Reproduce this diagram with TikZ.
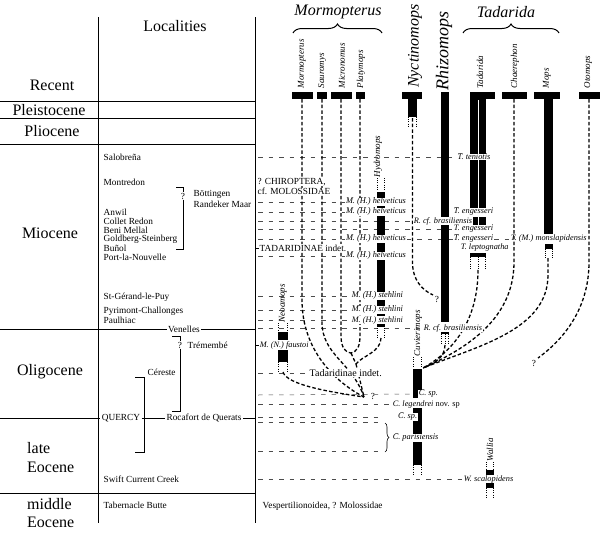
\documentclass[tikz,border=0pt]{standalone}
\usepackage{fontspec}
\setmainfont{Liberation Serif}
\usetikzlibrary{decorations.pathreplacing}
\newcommand\fsEp{\fontsize{16}{18}\selectfont}
\newcommand\fsLoc{\fontsize{9.3}{9}\selectfont}
\newcommand\fsLab{\fontsize{8.3}{9}\selectfont\itshape}
\newcommand\fsGen{\fontsize{9}{9}\selectfont\itshape}
\begin{document}
\begin{tikzpicture}[x=1pt,y=-1pt,
  frame/.style={line width=0.7pt},
  ep/.style={font=\fsEp, inner sep=0pt},
  loc/.style={font=\fsLoc, inner sep=0.5pt, anchor=west},
  lab/.style={font=\fsLab, inner sep=0.6pt, fill=white},
  gen/.style={font=\fsGen, rotate=90, anchor=west, inner sep=0.5pt},
  big/.style={font=\fontsize{16}{18}\selectfont\itshape, inner sep=0pt},
  hd/.style={draw=black!70, line width=0.5pt, dash pattern=on 4.5pt off 6pt},
  vd/.style={line width=1.3pt, dash pattern=on 3.5pt off 2.2pt},
  dt/.style={line width=0.6pt, dash pattern=on 1pt off 1.2pt},
  brc/.style={decorate, decoration={brace, amplitude=9pt}, line width=1pt},
  qm/.style={font=\fsLoc, inner sep=0.3pt},
  tdi/.style={font=\fontsize{10}{10}\selectfont, inner sep=0.5pt, anchor=west, fill=white}
]
\useasboundingbox (0,0) rectangle (600,533);
\fill[white] (0,0) rectangle (600,533);

% ---------- frame ----------
\coordinate (v1t) at (98,17); \coordinate (v1b) at (98,523);
\coordinate (v2t) at (255,17); \coordinate (v2b) at (255,523);
\draw[frame] (v1t) -- (v1b);
\draw[frame] (v2t) -- (v2b);
\foreach \y/\n in {101/a,118/b,144/c,493/d} {
  \coordinate (hl\n) at (0,\y); \coordinate (hr\n) at (255,\y);
  \draw[frame] (hl\n) -- (hr\n);
}
\node[font=\fsLoc, inner sep=1pt] (venelles) at (184,329) {Venelles};
\coordinate (vnl) at (0,329); \coordinate (vnr) at (255,329);
\draw[frame] (vnl) -- (venelles.west); \draw[frame] (venelles.east) -- (vnr);
\node[font=\fsLoc, inner sep=1.5pt] (quercy) at (121,418) {QUERCY};
\node[font=\fsLoc, inner sep=1.5pt] (rocafort) at (204,418) {Rocafort de Querats};
\coordinate (ql) at (0,418); \coordinate (qr) at (255,418);
\draw[frame] (ql) -- (quercy.west);
\draw[frame] (quercy.east) -- (rocafort.west);
\draw[frame] (rocafort.east) -- (qr);

% ---------- epochs ----------
\node[ep] (locs) at (175,26) {Localities};
\node[ep] (recent) at (52,85) {Recent};
\node[ep] (pleist) at (49,110) {Pleistocene};
\node[ep] (plio) at (52,131) {Pliocene};
\node[ep] (mio) at (50,233) {Miocene};
\node[ep] (oligo) at (50,372) {Oligocene};
\node[ep, anchor=west] (late) at (27,448) {late};
\node[ep, anchor=west] (leoc) at (27,467) {Eocene};
\node[ep, anchor=west] (middle) at (27,504) {middle};
\node[ep, anchor=west] (meoc) at (27,522) {Eocene};

% ---------- localities ----------
\node[loc] (salo) at (103,157) {Salobreña};
\node[loc] (montr) at (103,182) {Montredon};
\node[loc] (anwil) at (103,212) {Anwil};
\node[loc] (collet) at (103,221) {Collet Redon};
\node[loc] (beni) at (103,230) {Beni Mellal};
\node[loc] (gold) at (103,239) {Goldberg-Steinberg};
\node[loc] (bunol) at (103,248) {Buñol};
\node[loc] (port) at (103,257) {Port-la-Nouvelle};
\node[loc] (bott) at (193,194) {Böttingen};
\node[loc] (rand) at (193,204) {Randeker Maar};
\node[qm] (bq) at (183,196) {?};
\coordinate (bk1) at (176,187); \coordinate (bk2) at (183,187);
\coordinate (bk3) at (183,249); \coordinate (bk4) at (176,249);
\draw[frame] (bk1) -- (bk2) -- (bq.north);
\draw[frame] (bq.south) -- (bk3) -- (bk4);
\node[loc] (stg) at (103,297) {St-Gérand-le-Puy};
\node[loc] (pyr) at (103,311) {Pyrimont-Challonges};
\node[loc] (paul) at (103,320) {Paulhiac};
\node[qm] (tq) at (180,345) {?};
\node[loc] (tremembe) at (187,345) {Trémembé};
\coordinate (tr1) at (172,336); \coordinate (tr2) at (180,336);
\coordinate (tr3) at (180,411); \coordinate (tr4) at (172,411);
\draw[frame] (tr1) -- (tr2) -- (tq.north);
\draw[frame] (tq.south) -- (tr3) -- (tr4);
\node[loc] (cereste) at (147,372) {Céreste};
\coordinate (cr1) at (135,377); \coordinate (cr2) at (144,377);
\coordinate (cr3) at (144,452); \coordinate (cr4) at (135,452);
\draw[frame] (cr1) -- (cr2) -- (cr3) -- (cr4);
\node[loc] (swift) at (103,479) {Swift Current Creek};
\node[loc] (tab) at (103,505) {Tabernacle Butte};

% ---------- headers ----------
\node[big] (mormT) at (338,12) {Mormopterus};
\node[big] (tadT) at (506,12) {Tadarida};
\coordinate (mb1) at (293,33); \coordinate (mb2) at (382,33);
\draw[brc] (mb1) -- (mb2);
\coordinate (tb1) at (463,33); \coordinate (tb2) at (559,33);
\draw[brc] (tb1) -- (tb2);
\node[big, rotate=90, anchor=west] (nyctT) at (415,88) {Nyctinomops};
\node[font=\fontsize{18}{20}\selectfont\itshape, rotate=90, anchor=west, inner sep=0pt] (rhizT) at (444,91) {Rhizomops};
\foreach \x/\t/\n in {302/Mormopterus/g1, 322/Sauromys/g2, 342/Micronomus/g3, 361/Platymops/g4, 480/Tadarida/g5, 515/Chaerephon/g6, 547/Mops/g7, 588/Otomops/g8}
  \node[gen] (\n) at (\x,89) {\t};
\node[gen] (hydT) at (378,178) {Hydromops};
\node[gen] (neoT) at (283,323) {Neoamops};
\node[gen] (cuvT) at (418,357) {Cuvierimops};
\node[gen] (walT) at (490,462) {Wallia};

% ---------- horizontal dashed lines ----------
\node[lab] (tten) at (474,157) {T. teniotis};
\node[lab] (hel1) at (376,202) {M. (H.) helveticus};
\node[lab] (hel2) at (376,212) {M. (H.) helveticus};
\node[lab] (hel3) at (376,239) {M. (H.) helveticus};
\node[lab] (hel4) at (376,256) {M. (H.) helveticus};
\node[lab, anchor=west] (st1) at (351,296) {M. (H.) stehlini};
\node[lab, anchor=west] (st2) at (351,310) {M. (H.) stehlini};
\node[lab, anchor=west] (st3) at (351,320) {M. (H.) stehlini};
\node[lab, anchor=west] (rbr1) at (413,221) {R. cf. brasiliensis};
\node[lab, anchor=west] (rbr2) at (423,328) {R. cf. brasiliensis};
\node[lab, anchor=west] (ten1) at (453,212) {T. engesseri};
\node[lab, anchor=west] (ten2) at (453,229) {T. engesseri};
\node[lab, anchor=west] (ten3) at (453,239) {T. engesseri};
\node[lab, anchor=west] (tlep) at (460,247.5) {T. leptognatha};
\node[lab, anchor=west] (tmon) at (510,239) {T. (M.) monslapidensis};
\node[lab, anchor=west] (fau) at (259,345) {M. (N.) faustoi};
\node[tdi] (tadind) at (309,373) {Tadaridinae indet.};
\node[lab, anchor=west] (csp1) at (418,394) {C. sp.};
\node[lab, anchor=west] (cleg) at (392,404) {C. legendrei \textup{nov. sp}};
\node[lab, anchor=east] (csp2) at (418,417) {C. sp.};
\node[lab, anchor=west] (cpar) at (392,438) {C. parisiensis};
\node[lab, anchor=west] (wsc) at (463,479) {W. scalopidens};

\foreach \y/\t in {157/tten,202/hel1,212/hel2,221/rbr1,229/ten2,239/hel3,256/hel4,296/st1,310/st2,320/st3,328/rbr2,373/tadind,395/csp1,404/cleg,479/wsc} {
  \coordinate (d\y) at (258,\y);
  \draw[hd] (d\y) -- (\t.west);
}
\draw[hd] (hel3.east) -- (ten3.west);
\draw[hd] (ten3.east) -- (tmon.west);
\coordinate (e417a) at (258,417); \coordinate (e417b) at (382,417);
\coordinate (e422a) at (258,422); \coordinate (e422b) at (382,422);
\coordinate (e451a) at (258,451); \coordinate (e451b) at (382,451);
\draw[hd] (e417a) -- (e417b);
\draw[hd] (e422a) -- (e422b);
\draw[hd] (e451a) -- (e451b);
\coordinate (br1) at (385,423); \coordinate (br2) at (385,452);
\draw[decorate, decoration={brace, amplitude=4pt}, line width=0.6pt] (br1) -- (br2);

% ---------- tree (dashed lineages) ----------
\coordinate (mo0) at (302,99); \coordinate (mo1) at (302,300);
\coordinate (sa0) at (322,99); \coordinate (sa1) at (322,322);
\coordinate (mi0) at (341,99); \coordinate (mi1) at (341,336);
\coordinate (pl0) at (360,99); \coordinate (pl1) at (360,336);
\coordinate (A) at (351,353);
\coordinate (B) at (356,364);
\coordinate (hy0) at (381,338);
\coordinate (L0) at (364,397);
\coordinate (ne0) at (283,372);
\draw[vd] (mo0) -- (mo1) .. controls (302,350) and (335,382) .. (L0);
\draw[vd] (sa0) -- (sa1) .. controls (322,355) and (352,362) .. (L0);
\draw[vd] (mi0) -- (mi1) .. controls (341,348) and (346,353) .. (A);
\draw[vd] (pl0) -- (pl1) .. controls (360,348) and (356,352) .. (A);
\draw[vd] (A) -- (B);
\draw[vd] (hy0) .. controls (381,352) and (362,356) .. (B);
\draw[vd] (B) -- (L0);
\draw[vd] (ne0) .. controls (287,385) and (330,392) .. (L0);

\coordinate (C0) at (423,368);
\coordinate (rh0) at (445,345);
\coordinate (ta0) at (478,270);
\coordinate (ch0) at (514,99); \coordinate (ch1) at (514,262);
\coordinate (mp0) at (548,258); \coordinate (mp1) at (548,275);
\coordinate (ot0) at (589,99); \coordinate (ot1) at (589,262);
\coordinate (ny0) at (412.5,118); \coordinate (ny1) at (412.5,262);
\coordinate (nyq) at (433,295);
\coordinate (otq) at (538,358);
\draw[vd] (rh0) .. controls (445,358) and (433,364) .. (C0);
\draw[vd] (ta0) .. controls (478,322) and (452,352) .. (C0);
\draw[vd] (ch0) -- (ch1) .. controls (514,318) and (468,348) .. (C0);
\draw[vd] (mp0) -- (mp1) .. controls (548,330) and (478,346) .. (C0);
\draw[vd] (ot0) -- (ot1) .. controls (589,312) and (560,342) .. (otq);
\draw[vd] (ny0) -- (ny1) .. controls (412.5,280) and (422,290) .. (nyq);
\node[qm] (nyqm) at (437,299) {?};
\node[qm] (otqm) at (534,363) {?};
\node[qm, fill=white] (lq) at (373,396) {?};

% ---------- bars ----------
\fill (292,92) rectangle (313,99);
\fill (317,92) rectangle (327,99);
\fill (331,92) rectangle (352,99);
\fill (356,92) rectangle (365,99);
\fill (402,92) rectangle (422,99); \fill (408,99) rectangle (417,117);
\draw[dt] (408.3,117) -- (408.3,127); \draw[dt] (416.7,117) -- (416.7,127);
% Rhizomops
\fill (441,92) rectangle (449,322);
\fill (441,332) rectangle (449,334);
\draw[dt] (441.3,334) -- (441.3,345); \draw[dt] (445,334) -- (445,345); \draw[dt] (448.7,334) -- (448.7,345);
% Tadarida
\fill (470,92) rectangle (495,99);
\fill (470,99) rectangle (486,208);
\fill (470,217) rectangle (486,225);
\draw[white, line width=0.4pt] (478,100) -- (478,208);
\draw[white, line width=0.4pt] (478,217) -- (478,225);
\fill (471,242.6) rectangle (486,243.8);
\fill (470,253) rectangle (486,257);
\draw[dt] (470.3,257) -- (470.3,270); \draw[dt] (478,257) -- (478,270); \draw[dt] (485.7,257) -- (485.7,270);
% Chaerephon
\fill (502,92) rectangle (527,99);
% Mops
\fill (534,92) rectangle (560,99); \fill (544,99) rectangle (553,234);
\fill (545,244) rectangle (553,248.5);
\draw[dt] (545.3,248.5) -- (545.3,258); \draw[dt] (552.7,248.5) -- (552.7,258);
% Otomops
\fill (579,92) rectangle (600,99);
% Hydromops
\draw[dt] (377.3,178) -- (377.3,191); \draw[dt] (384.7,178) -- (384.7,191);
\fill (377,192) rectangle (385,327);
\draw[dt] (377.3,328) -- (377.3,338); \draw[dt] (384.7,328) -- (384.7,338);
% Neoamops
\draw[dt] (278.3,323) -- (278.3,331); \draw[dt] (287.7,323) -- (287.7,331);
\fill (278,332) rectangle (288,340);
\fill (278,350) rectangle (288,362);
\draw[dt] (278.3,362) -- (278.3,372); \draw[dt] (287.7,362) -- (287.7,372);
% Cuvierimops
\draw[dt] (413.3,357) -- (413.3,368); \draw[dt] (421.7,357) -- (421.7,368);
\fill (413,369) rectangle (422,398);
\fill (413,407) rectangle (422,465);
\draw[dt] (413.3,465) -- (413.3,475); \draw[dt] (421.7,465) -- (421.7,475);
% Wallia
\draw[dt] (486.3,462) -- (486.3,470); \draw[dt] (493.7,462) -- (493.7,470);
\fill (486,470) rectangle (494,477);
\fill (486,483) rectangle (494,488);
\draw[dt] (486.3,488) -- (486.3,497); \draw[dt] (493.7,488) -- (493.7,497);

% ---------- labels on top ----------
\node[lab] (tten') at (tten) {T. teniotis};
\node[lab] (hel1') at (hel1) {M. (H.) helveticus};
\node[lab] (hel2') at (hel2) {M. (H.) helveticus};
\node[lab] (hel3') at (hel3) {M. (H.) helveticus};
\node[lab] (hel4') at (hel4) {M. (H.) helveticus};
\node[lab] (st1') at (st1) {M. (H.) stehlini};
\node[lab] (st2') at (st2) {M. (H.) stehlini};
\node[lab] (st3') at (st3) {M. (H.) stehlini};
\node[lab] (rbr1') at (rbr1) {R. cf. brasiliensis};
\node[lab] (rbr2') at (rbr2) {R. cf. brasiliensis};
\node[lab] (ten1') at (ten1) {T. engesseri};
\node[lab] (ten2') at (ten2) {T. engesseri};
\node[lab] (ten3') at (ten3) {T. engesseri};
\node[lab] (tlep') at (tlep) {T. leptognatha};
\node[lab] (fau') at (fau) {M. (N.) faustoi};
\node[tdi, anchor=center] (tadind') at (tadind) {Tadaridinae indet.};
\node[lab] (csp1') at (csp1) {C. sp.};
\node[lab] (cleg') at (cleg) {C. legendrei \textup{nov. sp}};
\node[lab] (csp2') at (csp2) {C. sp.};
\node[lab] (cpar') at (cpar) {C. parisiensis};
\node[lab] (wsc') at (wsc) {W. scalopidens};

\coordinate (f345) at (255,345); \draw[line width=0.5pt] (f345) -- (fau.west);
\node[loc, fill=white] (tadup) at (259,248) {TADARIDINAE indet.};
\coordinate (t248) at (255,248); \draw[line width=0.5pt] (t248) -- (tadup.west);
\node[loc, fill=white] (chir) at (257,182) {? CHIROPTERA,};
\node[loc, fill=white] (molo) at (257,191.5) {cf. MOLOSSIDAE};
\node[loc] (vesp) at (262,506) {Vespertilionoidea, ? Molossidae};
\end{tikzpicture}
\end{document}
